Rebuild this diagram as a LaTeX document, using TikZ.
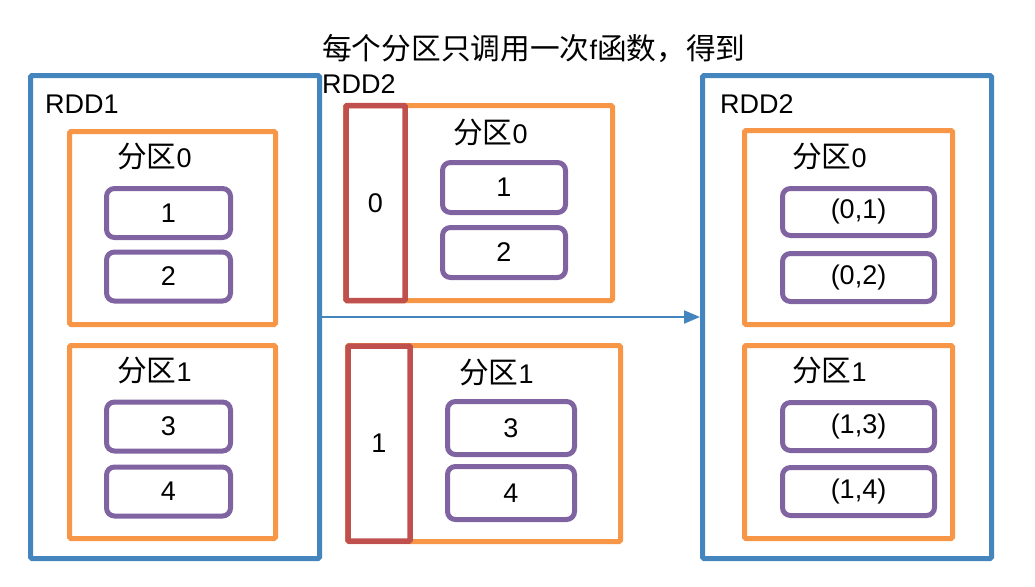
\documentclass[tikz,border=0pt]{standalone}
\usepackage{fontspec}
\setmainfont{Liberation Sans}
\newfontfamily\cjkfont{Noto Sans CJK SC}[Scale=1.1]
\newcommand{\zh}[1]{{\cjkfont #1}}
\newcommand{\diagfont}{\fontsize{27}{34}\selectfont}
\usetikzlibrary{positioning,arrows.meta}
\definecolor{rddblue}{HTML}{4485BD}
\definecolor{partorange}{HTML}{F79646}
\definecolor{elempurple}{HTML}{8064A2}
\definecolor{keyred}{HTML}{C0504D}

\begin{document}
\begin{tikzpicture}[x=1pt, y=-1pt, font=\diagfont,
        rdd/.style={draw=rddblue, line width=5pt, rounded corners=1.5pt, minimum width=289pt, minimum height=483pt},
        part/.style={draw=partorange, line width=5pt, rounded corners=1.5pt},
        elem/.style={draw=elempurple, fill=white, line width=5pt, rounded corners=8pt, minimum height=49pt},
        keybox/.style={draw=keyred, line width=5.5pt, rounded corners=1pt, minimum width=59pt, minimum height=195pt},
        lbl/.style={inner sep=0pt, anchor=base west},
        >={Triangle[length=16pt, width=13pt]}
    ]
        \useasboundingbox (0,0) rectangle (1035,586);

        % RDD1
        \node [rdd] (rddA) at (175,317) {};
        \node [lbl] (rddAlbl) at (45,113) {RDD1};
        \node [part, minimum width=206pt, minimum height=193pt] (partA0) at (172.5,228) {};
        \node [lbl] (partA0lbl) at (117,167) {\zh{分区}0};
        \node [elem, minimum width=124pt] (a1) at (168.5,213) {1};
        \node [elem, minimum width=124pt] (a2) at (168.5,276.5) {2};
        \node [part, minimum width=206pt, minimum height=193pt] (partA1) at (172.5,442) {};
        \node [lbl] (partA1lbl) at (117,381) {\zh{分区}1};
        \node [elem, minimum width=124pt] (a3) at (168.5,426.5) {3};
        \node [elem, minimum width=124pt] (a4) at (168.5,491.5) {4};

        % mapPartitionsWithIndex
        \node [lbl, align=left] (title) at (322,93) {\zh{每个分区只调用一次}f\zh{函数，得到}\\RDD2};
        \node [part, minimum width=267pt, minimum height=195pt] (partM0) at (479,203) {};
        \node [keybox] (key0) at (375.5,203) {0};
        \node [lbl] (partM0lbl) at (453,143) {\zh{分区}0};
        \node [elem, minimum width=123pt, minimum height=50pt] (m1) at (504,187.5) {1};
        \node [elem, minimum width=123pt, minimum height=50pt] (m2) at (504,252.5) {2};
        \node [part, minimum width=273pt, minimum height=196pt] (partM1) at (484,443.5) {};
        \node [keybox, minimum width=62pt] (key1) at (379,443.5) {1};
        \node [lbl] (partM1lbl) at (459,383) {\zh{分区}1};
        \node [elem, minimum width=127pt, minimum height=53pt] (m3) at (511,428) {3};
        \node [elem, minimum width=127pt, minimum height=53pt] (m4) at (511,493) {4};

        % RDD2
        \node [rdd] (rddB) at (847,317) {};
        \node [lbl] (rddBlbl) at (720,113) {RDD2};
        \node [part, minimum width=208pt, minimum height=194pt] (partB0) at (848.5,227.5) {};
        \node [lbl] (partB0lbl) at (792,167) {\zh{分区}0};
        \node [elem, minimum width=152pt, minimum height=47pt] (b1) at (858.5,212) {(0,1)};
        \node [elem, minimum width=152pt, minimum height=48pt] (b2) at (858.5,277.5) {(0,2)};
        \node [part, minimum width=208pt, minimum height=193pt] (partB1) at (848.5,442) {};
        \node [lbl] (partB1lbl) at (792,381) {\zh{分区}1};
        \node [elem, minimum width=152pt, minimum height=48pt] (b3) at (858.5,426.5) {(1,3)};
        \node [elem, minimum width=152pt, minimum height=48pt] (b4) at (858.5,491.5) {(1,4)};

        \draw [->, rddblue, line width=2pt] (rddA.east) -- (rddB.west);
    \end{tikzpicture}
\end{document}
